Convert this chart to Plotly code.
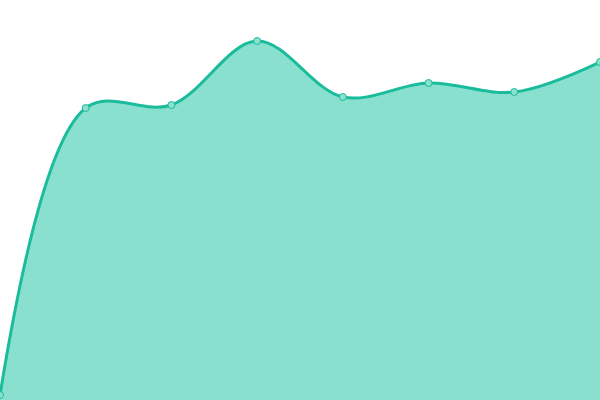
import plotly.graph_objects as go

x_vals = [0, 1, 2, 3, 4, 5, 6, 7]
y_vals = [5, 292, 295, 359, 303, 317, 308, 338]

fig = go.Figure()
fig.add_trace(go.Scatter(
    x=x_vals, y=y_vals,
    mode="lines+markers",
    line=dict(color="#1abc9c", width=3, shape="spline", smoothing=1),
    marker=dict(size=7, color="#8ce0cf", line=dict(color="#1abc9c", width=1)),
    fill="tozeroy",
    fillcolor="#8ae0cf",
    hoverinfo="x+y",
))

fig.update_layout(
    width=600, height=400,
    margin=dict(l=0, r=0, t=0, b=0),
    paper_bgcolor="white", plot_bgcolor="white",
    showlegend=False,
    xaxis=dict(range=[0, 7], visible=False),
    yaxis=dict(range=[0, 400], visible=False),
)

# page body has a default 8px margin; drop it so the figure fills the window
fig.write_html("out.html", config={"displayModeBar": False},
               post_script="document.body.style.margin='0';")
